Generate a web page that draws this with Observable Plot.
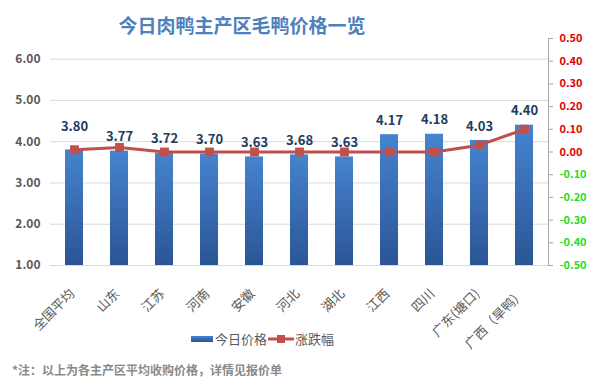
<!DOCTYPE html>
<html><head><meta charset="utf-8">
<script src="https://cdn.jsdelivr.net/npm/d3@7"></script>
<script src="https://cdn.jsdelivr.net/npm/@observablehq/plot@0.6"></script>
<style>
body{margin:0;background:#fff;font-family:"Noto Sans CJK SC","Noto Sans",sans-serif;}
#wrap{position:relative;width:592px;height:390px;overflow:hidden;background:#fff;}
#title{position:absolute;left:0;width:484px;text-align:center;top:12px;font-size:19px;font-weight:bold;color:#4F81BD;line-height:26px;}
#chart{position:absolute;left:0;top:30px;}
#chart svg{overflow:visible;}
.lg{position:absolute;font-size:13px;color:#595959;line-height:18px;top:330px;}
#note{position:absolute;top:361px;left:12px;font-size:12px;font-weight:bold;color:#8a8a8a;line-height:18px;}
</style></head>
<body>
<div id="wrap">
  <div id="title">今日肉鸭主产区毛鸭价格一览</div>
  <div id="chart"></div>
  <div class="lg" style="left:191px;top:336px;width:22px;height:6px;background:linear-gradient(#4683d0,#2b5595);"></div>
  <div class="lg" style="left:215px;">今日价格</div>
  <svg class="lg" style="left:268px;top:333px;" width="26" height="12"><line x1="0" y1="6" x2="26" y2="6" stroke="#C0504D" stroke-width="3"/><rect x="9" y="2" width="8" height="8" fill="#C0504D"/></svg>
  <div class="lg" style="left:295px;">涨跌幅</div>
  <div id="note">*注：以上为各主产区平均收购价格，详情见报价单</div>
</div>
<script>
const categories = ["全国平均","山东","江苏","河南","安徽","河北","湖北","江西","四川","广东(塘口)","广西（旱鸭）"];
const prices = [3.80,3.77,3.72,3.70,3.63,3.68,3.63,4.17,4.18,4.03,4.40];
const changes = [0.01,0.02,0.00,0.00,0.00,0.00,0.00,0.00,0.00,0.03,0.10];
const leftTicks = [1,2,3,4,5,6];
const rightTicks = [-0.5,-0.4,-0.3,-0.2,-0.1,0,0.1,0.2,0.3,0.4,0.5];

const toLeft = v => 1 + (v + 0.5) * 5.5;
const fromLeft = y => { const v = Math.round(((y - 1) / 5.5 - 0.5) * 100) / 100; return (v === 0 ? 0 : v).toFixed(2); };
const data = categories.map((c, i) => ({cat: c, price: prices[i], chg: changes[i], i}));
const font = '"Noto Sans CJK SC","Noto Sans",sans-serif';

const plot = Plot.plot({
  width: 592, height: 300,
  marginTop: 8, marginBottom: 65, marginLeft: 50, marginRight: 44,
  style: {fontFamily: font, background: "transparent", overflow: "visible"},
  x: {domain: categories, paddingInner: 0.6, paddingOuter: 0.3, label: null},
  y: {domain: [1, 6.5], label: null},
  marks: [
    Plot.gridY(leftTicks, {stroke: "#d9d9d9", strokeOpacity: 1}),
    Plot.axisY(leftTicks, {anchor: "left", tickSize: 0, tickPadding: 10, tickFormat: d => d.toFixed(2), fontSize: 12, fontWeight: "bold", fill: "#595959", label: null}),
    Plot.barY(data, {x: "cat", y1: 1, y2: "price", fill: "url(#barGrad)"}),
    Plot.line(data, {x: "cat", y: d => toLeft(d.chg), stroke: "#C0504D", strokeWidth: 3}),
    Plot.dot(data, {x: "cat", y: d => toLeft(d.chg), symbol: "square", r: 5, fill: "#C0504D", stroke: "none"}),
    Plot.text(data.filter(d => d.i === 0), {x: "cat", y: "price", text: d => d.price.toFixed(2), dy: -23, fontSize: 13, fontWeight: "bold", fill: "#1F3A60"}),
    Plot.text(data.filter(d => d.i !== 0), {x: "cat", y: "price", text: d => d.price.toFixed(2), dy: -14, fontSize: 13, fontWeight: "bold", fill: "#1F3A60"}),
    Plot.frame({anchor: "right", stroke: "#a6a6a6"}),
    Plot.axisY(rightTicks.filter(v => v >= 0).map(toLeft), {anchor: "right", tickSize: 4, stroke: "#a6a6a6", tickPadding: 7, tickFormat: fromLeft, fill: "#E00000", fontWeight: "bold", fontSize: 11, label: null}),
    Plot.axisY(rightTicks.filter(v => v < 0).map(toLeft), {anchor: "right", tickSize: 4, stroke: "#a6a6a6", tickPadding: 7, tickFormat: fromLeft, fill: "#22DD22", fontWeight: "bold", fontSize: 11, label: null}),
    Plot.axisX({tickRotate: -45, tickSize: 0, tickPadding: 10, dx: -2, dy: 16, fontSize: 13, fill: "#595959", label: null})
  ]
});
d3.select(plot).insert("defs", ":first-child").html(
  '<linearGradient id="barGrad" x1="0" y1="0" x2="0" y2="1"><stop offset="0" stop-color="#4683d0"/><stop offset="1" stop-color="#2b5595"/></linearGradient>'
);
document.getElementById("chart").appendChild(plot);
</script>
</body></html>
